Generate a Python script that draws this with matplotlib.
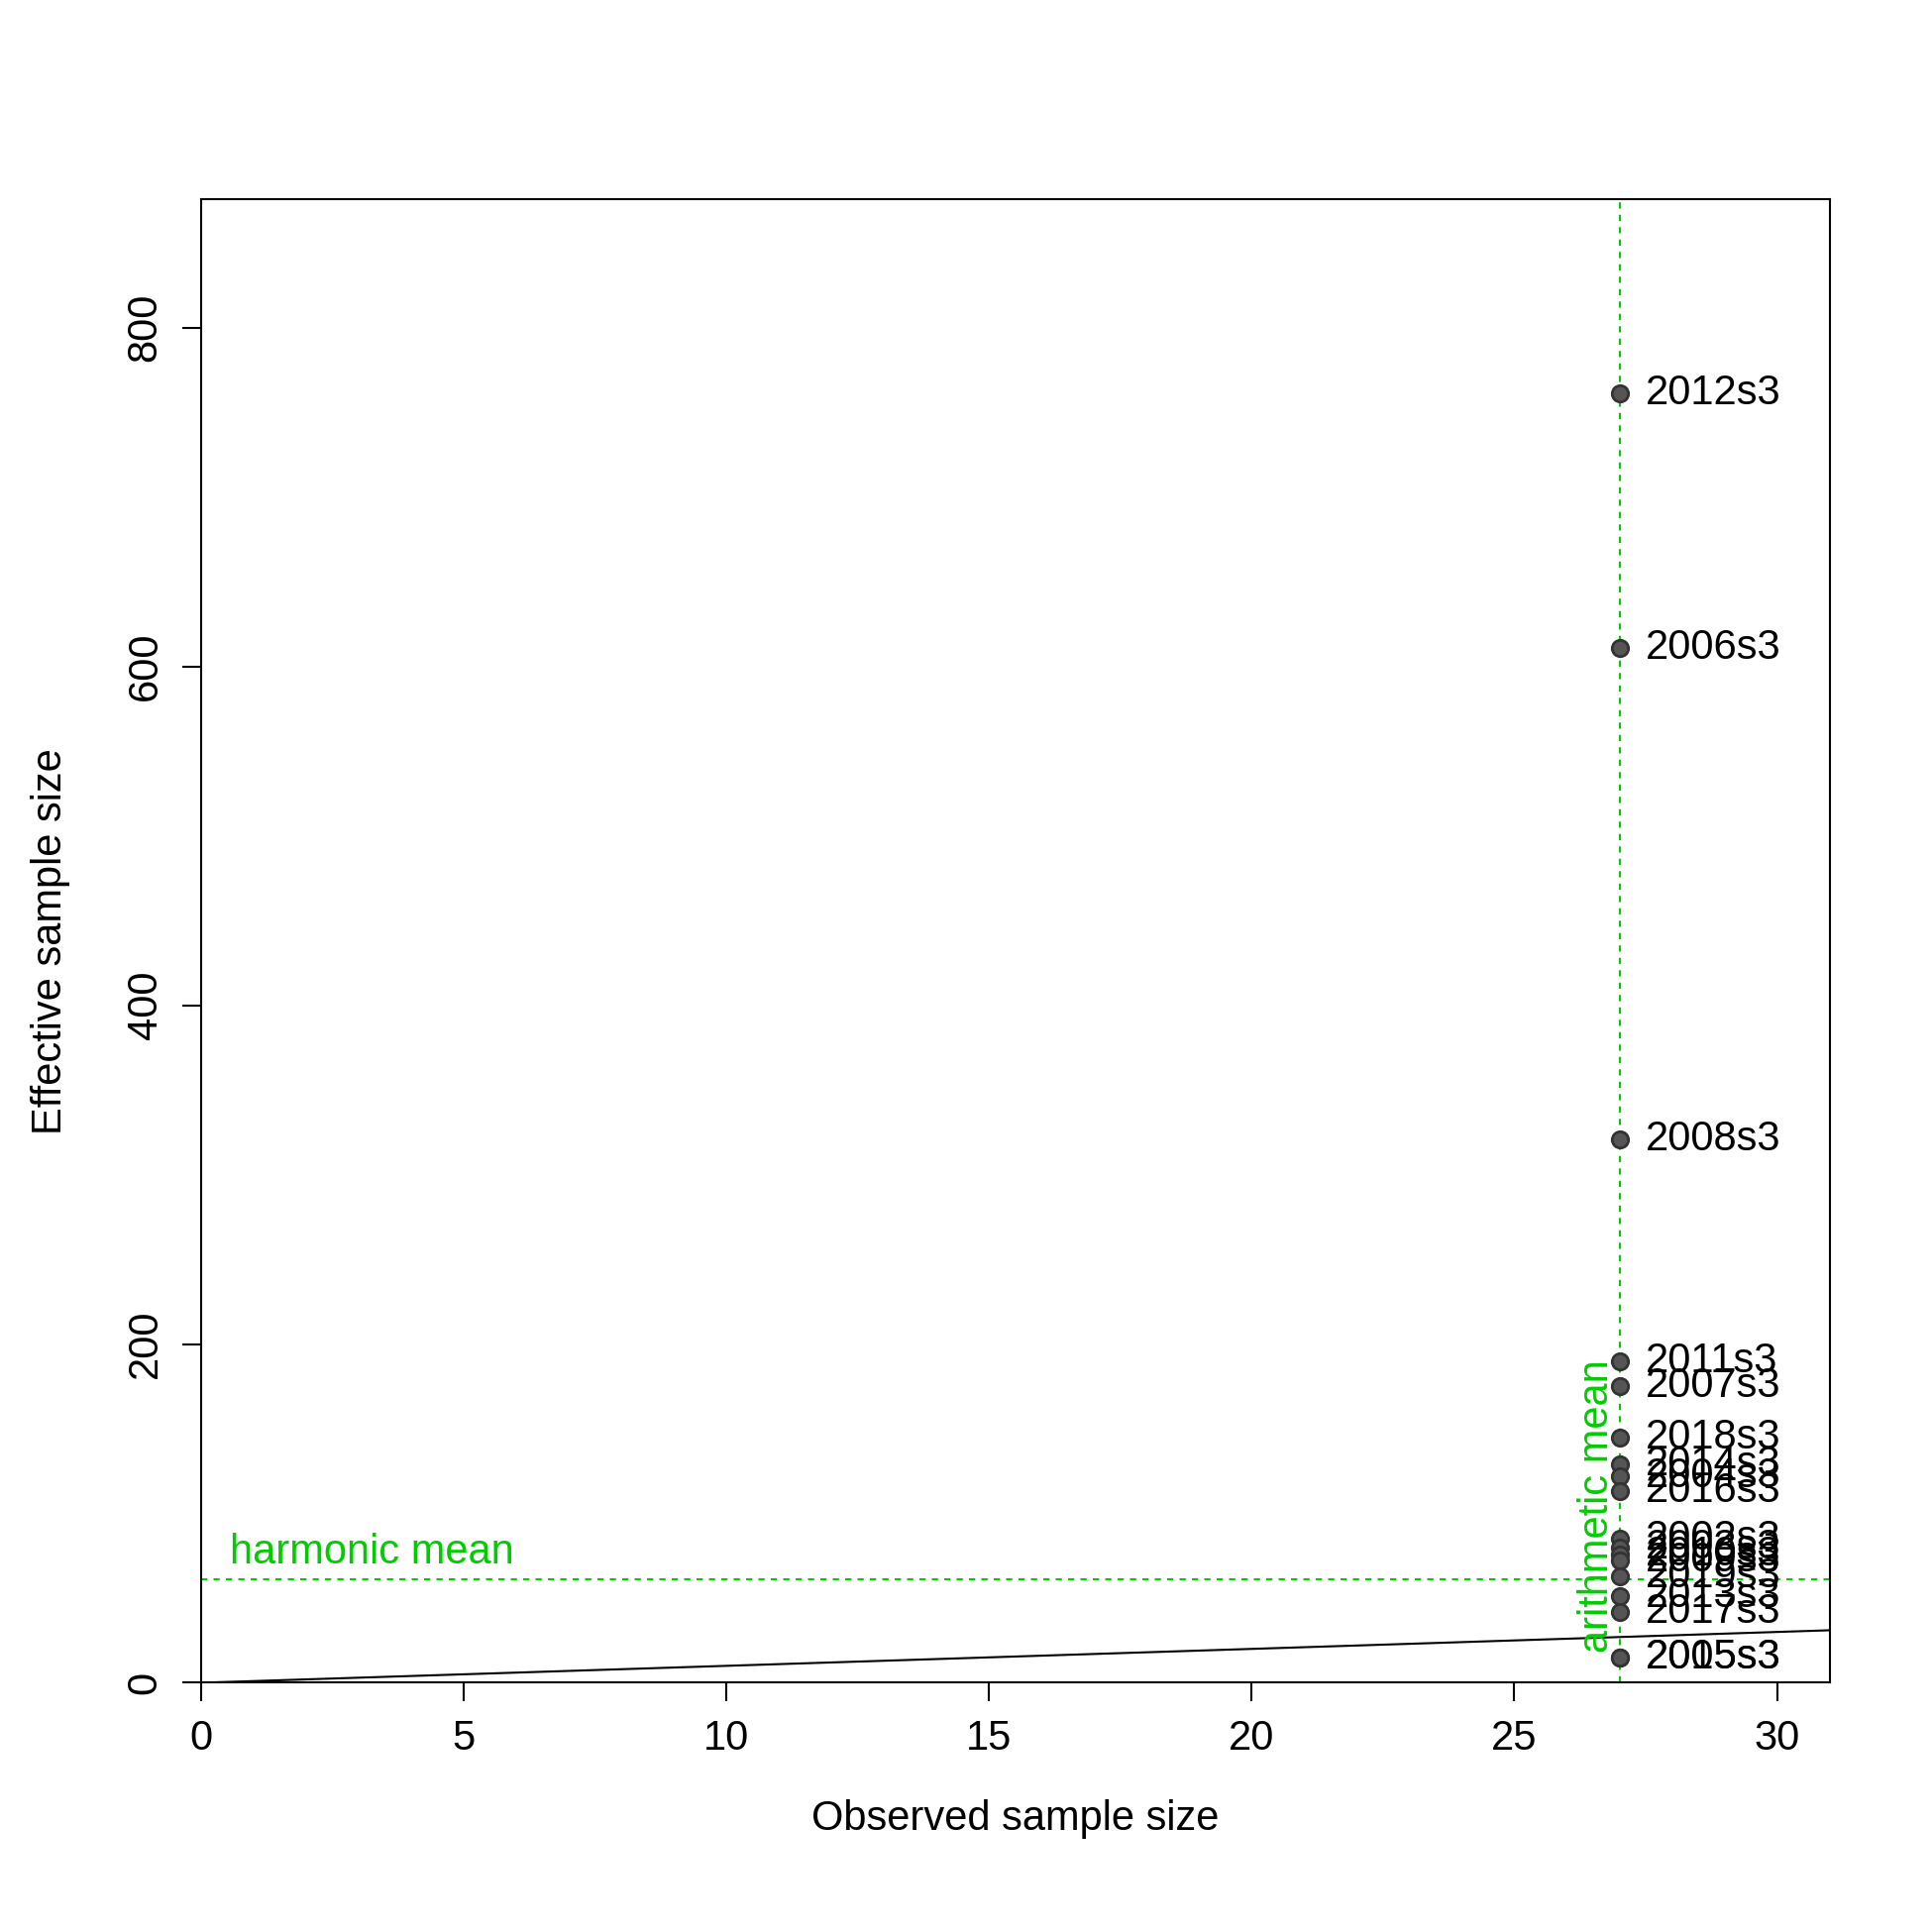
import matplotlib
matplotlib.use("Agg")
import matplotlib.pyplot as plt

labels = ["2012s3","2006s3","2008s3","2011s3","2007s3","2018s3","2014s3","2004s3","2016s3",
          "2002s3","2003s3","2010s3","2009s3","2019s3","2013s3","2017s3","2005s3","2015s3"]
ess = [761,611,321,190,175,145,129,122,113,85,80,76,72,63,51,42,15,15]
obs = [27]*len(ess)
harmonic_mean = 61
arith_mean = 27

plt.rcParams["font.family"] = "Liberation Sans"
fig = plt.figure(figsize=(19.5,19.5), dpi=100)
ax = fig.add_axes([0.104,0.129,0.843,0.768])
ax.plot([0,31],[0,31],color="black",lw=1.5)
ax.axhline(harmonic_mean,color="#00CC00",ls=(0,(3,3)),lw=1.5)
ax.axvline(arith_mean,color="#00CC00",ls=(0,(3,3)),lw=1.5)
ax.scatter(obs,ess,s=140,color="#555555",edgecolor="#333333",lw=2,zorder=3)
for x,y,l in zip(obs,ess,labels):
    ax.text(x+0.5,y,l,fontsize=30,va="center",ha="left")
ax.text(0.55,harmonic_mean+4,"harmonic mean",color="#00CC00",fontsize=30,va="bottom")
ax.text(arith_mean-0.05,18,"arithmetic mean",color="#00CC00",fontsize=30,rotation=90,ha="right",va="bottom")
ax.set_xlim(0,31); ax.set_ylim(0,876)
ax.set_xticks([0,5,10,15,20,25,30]); ax.set_yticks([0,200,400,600,800])
ax.tick_params(labelsize=30,length=14,width=1.5,pad=12)
for t in ax.get_yticklabels():
    t.set_rotation(90); t.set_va("center")
for s in ax.spines.values(): s.set_linewidth(1.5)
ax.set_xlabel("Observed sample size",fontsize=30,labelpad=30)
ax.set_ylabel("Effective sample size",fontsize=30,labelpad=40)
fig.savefig("out.png")
